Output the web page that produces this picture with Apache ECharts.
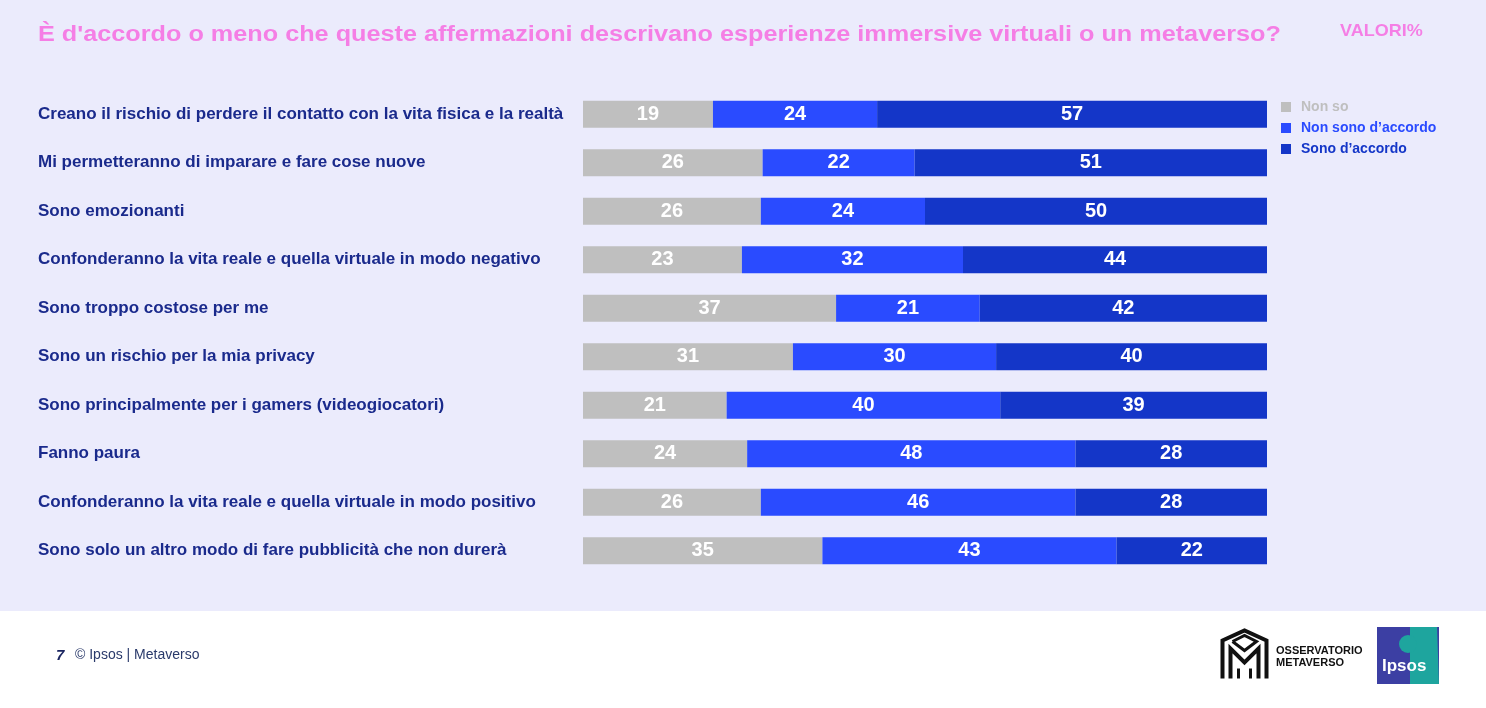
<!DOCTYPE html>
<html>
<head>
<meta charset="utf-8">
<style>
  html, body { margin: 0; padding: 0; background: #ebebfc; }
  #chart { width: 1486px; height: 708px; }
</style>
<script src="https://cdn.jsdelivr.net/npm/echarts@6/dist/echarts.min.js"></script>
</head>
<body>
<div id="chart"></div>
<script>
'use strict';

var statements = [
  'Creano il rischio di perdere il contatto con la vita fisica e la realtà',
  'Mi permetteranno di imparare e fare cose nuove',
  'Sono emozionanti',
  'Confonderanno la vita reale e quella virtuale in modo negativo',
  'Sono troppo costose per me',
  'Sono un rischio per la mia privacy',
  'Sono principalmente per i gamers (videogiocatori)',
  'Fanno paura',
  'Confonderanno la vita reale e quella virtuale in modo positivo',
  'Sono solo un altro modo di fare pubblicità che non durerà'
];
var nonSo = [19, 26, 26, 23, 37, 31, 21, 24, 26, 35];
var nonSonoDAccordo = [24, 22, 24, 32, 21, 30, 40, 48, 46, 43];
var sonoDAccordo = [57, 51, 50, 44, 42, 40, 39, 28, 28, 22];

var seriesNames = ['Non so', 'Non sono d\u2019accordo', 'Sono d\u2019accordo'];
var seriesColors = ['#bfbfbf', '#2a4bff', '#1436c8'];
var seriesValues = [nonSo, nonSonoDAccordo, sonoDAccordo];

var FONT = '"Liberation Sans", Arial, sans-serif';

// every bar spans 100%, labels keep the rounded values
var rowTotals = statements.map(function (s, i) {
  return nonSo[i] + nonSonoDAccordo[i] + sonoDAccordo[i];
});

var chartDom = document.getElementById('chart');
var myChart = echarts.init(chartDom);

var series = seriesValues.map(function (values, k) {
  return {
    name: seriesNames[k],
    type: 'bar',
    stack: 'total',
    barWidth: 27,
    itemStyle: {color: seriesColors[k]},
    label: {
      show: true,
      position: 'inside',
      color: '#ffffff',
      fontSize: 20,
      fontWeight: 'bold',
      fontFamily: FONT,
      formatter: function (p) {
        return values[p.dataIndex];
      }
    },
    emphasis: {disabled: true},
    data: values.map(function (v, i) {
      return v / rowTotals[i] * 100;
    })
  };
});

var option = {
  backgroundColor: '#ebebfc',
  animation: false,
  textStyle: {fontFamily: FONT},
  legend: {
    orient: 'vertical',
    left: 1281,
    top: 100,
    padding: 0,
    itemWidth: 10,
    itemHeight: 10,
    itemGap: 7,
    icon: 'rect',
    selectedMode: false,
    textStyle: {fontSize: 14, fontWeight: 'bold', fontFamily: FONT, padding: [0, 0, 0, 5]},
    data: seriesNames.map(function (n, k) {
      return {name: n, textStyle: {color: seriesColors[k]}};
    })
  },
  grid: {left: 583, right: 219, top: 90, bottom: 133},
  xAxis: {
    type: 'value',
    min: 0,
    max: 100,
    show: false
  },
  yAxis: {
    type: 'category',
    inverse: true,
    data: statements,
    axisLine: {show: false},
    axisTick: {show: false},
    axisLabel: {
      align: 'left',
      margin: 545,
      color: '#1a2a8c',
      fontSize: 17,
      fontWeight: 'bold',
      fontFamily: FONT,
      padding: [0, 0, 12, 0]
    }
  },
  series: series,
  graphic: [
    // title, slightly widened like the original slide
    {
      type: 'text',
      x: 38,
      y: 35,
      scaleX: 1.147,
      style: {
        text: '\u00c8 d\'accordo o meno che queste affermazioni descrivano esperienze immersive virtuali o un metaverso?',
        fill: '#f57ee5',
        font: 'bold 22px "Liberation Sans"',
        verticalAlign: 'middle'
      }
    },
    {
      type: 'text',
      x: 1340,
      y: 31,
      scaleX: 1.06,
      style: {text: 'VALORI%', fill: '#f57ee5', font: 'bold 17px "Liberation Sans"', verticalAlign: 'middle'}
    },
    {
      type: 'rect',
      z: -1,
      shape: {x: 0, y: 611, width: 1486, height: 97},
      style: {fill: '#ffffff'}
    },
    {
      type: 'text',
      left: 56,
      top: 648,
      style: {text: '7', fill: '#1a2560', font: 'italic bold 15px "Liberation Sans"'}
    },
    {
      type: 'text',
      left: 75,
      top: 648,
      style: {text: '\u00a9 Ipsos | Metaverso', fill: '#2a3a6b', font: '14px "Liberation Sans"'}
    },
    // Osservatorio Metaverso mark
    {
      type: 'group',
      left: 1220,
      top: 628,
      children: [
        {type: 'polyline', shape: {points: [[2, 50], [2, 12], [24, 2], [46, 12], [46, 50]]}, style: {stroke: '#111', lineWidth: 4, fill: null}},
        {type: 'polyline', shape: {points: [[10, 50], [10, 20], [24, 34], [38, 20], [38, 50]]}, style: {stroke: '#111', lineWidth: 4, fill: null}},
        {type: 'polyline', shape: {points: [[12, 13], [24, 7], [36, 13], [24, 22], [12, 13]]}, style: {stroke: '#111', lineWidth: 3, fill: null}},
        {type: 'line', shape: {x1: 18, y1: 40, x2: 18, y2: 50}, style: {stroke: '#111', lineWidth: 3}},
        {type: 'line', shape: {x1: 30, y1: 40, x2: 30, y2: 50}, style: {stroke: '#111', lineWidth: 3}}
      ]
    },
    {
      type: 'text',
      left: 1276,
      top: 645,
      style: {text: 'OSSERVATORIO\nMETAVERSO', fill: '#111', font: 'bold 11px "Liberation Sans"', lineHeight: 12}
    },
    // Ipsos logo
    {
      type: 'rect',
      shape: {x: 1377, y: 627, width: 62, height: 57},
      style: {fill: '#3c3fa3'}
    },
    {
      type: 'polygon',
      shape: {points: [[1410, 627], [1437, 627], [1439, 684], [1410, 684]]},
      style: {fill: '#1ea59e'}
    },
    {
      type: 'circle',
      shape: {cx: 1408, cy: 644, r: 9},
      style: {fill: '#1ea59e'}
    },
    {
      type: 'text',
      left: 1382,
      top: 658,
      style: {text: 'Ipsos', fill: '#ffffff', font: 'bold 17px "Liberation Sans"'}
    }
  ]
};

myChart.setOption(option);
</script>
</body>
</html>
